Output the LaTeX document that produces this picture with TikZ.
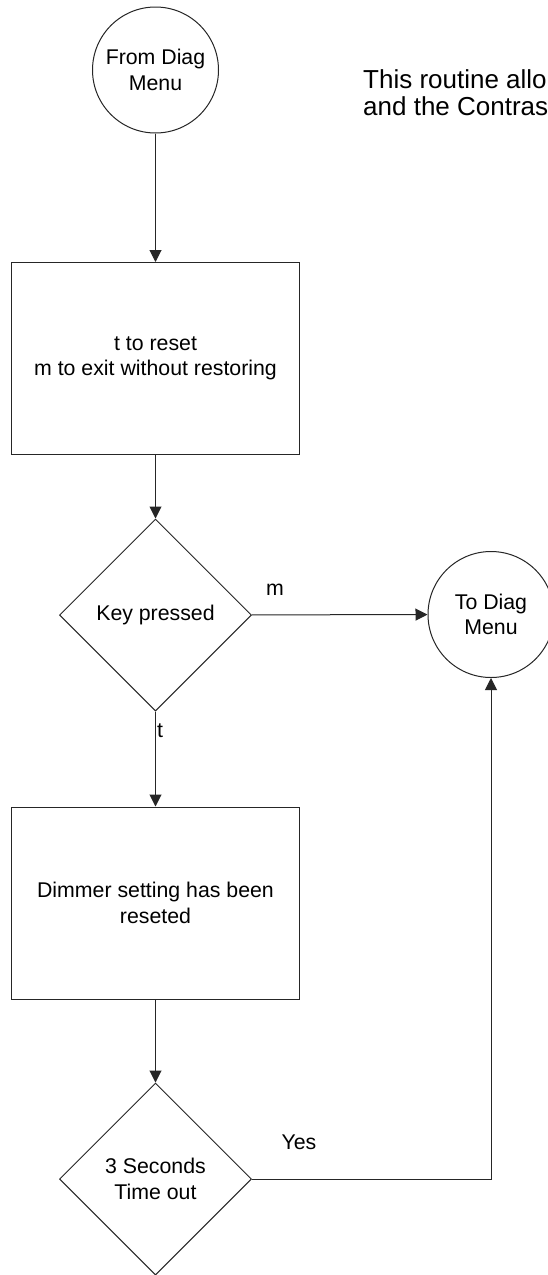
\documentclass[tikz,border=0pt]{standalone}
\usepackage{fontspec}
\setmainfont{Liberation Sans}
\usetikzlibrary{shapes.geometric,arrows.meta}

\tikzset{
  base/.style={draw=black!85, line width=1pt, inner sep=0pt, align=center,
               font=\fontsize{21.3}{25.7}\selectfont},
  term/.style={base, circle, minimum size=126pt},
  procbox/.style={base, rectangle, minimum width=288pt},
  decision/.style={base, diamond, aspect=1, minimum width=192pt, minimum height=192pt},
  flow/.style={draw=black!85, line width=1pt, -{Triangle[length=12pt,width=12pt]}},
  lbl/.style={inner sep=0pt, font=\fontsize{21.3}{25.7}\selectfont},
  note/.style={inner sep=0pt, anchor=base west, font=\fontsize{26}{30}\selectfont}
}

\begin{document}
\begin{tikzpicture}[x=1pt,y=-1pt]
  \clip (0,0) rectangle (548,1275);
  \fill[white] (0,0) rectangle (548,1275);

  % flow chart boxes
  \node[term] (from) at (155.5,70) {From Diag\\Menu};
  \node[procbox, minimum height=191.5pt] (reset) at (155.5,358.25)
       {t to reset\\m to exit without restoring};
  \node[decision] (key) at (155.5,615) {Key pressed};
  \node[term] (to) at (491,614.5) {To Diag\\Menu};
  \node[procbox, minimum height=192pt] (done) at (155.5,903)
       {Dimmer setting has been\\reseted};
  \node[decision] (wait) at (155.5,1179) {3 Seconds\\Time out};

  % description text
  \node[note] (note1) at (363,88) {This routine allo};
  \node[note] (note2) at (363,115) {and the Contras};

  % connectors
  \draw[flow] (from) -- (reset);
  \draw[flow] (reset) -- (key);
  \draw[flow] (key) -- (to);
  \draw[flow] (key) -- (done);
  \draw[flow] (done) -- (wait);
  \draw[flow] (wait.east) -| (to.south);

  % branch labels
  \node[lbl] (lm) at (275,590) {m};
  \node[lbl, anchor=west] (lt) at (157,731) {t};
  \node[lbl] (lyes) at (299,1142.7) {Yes};
\end{tikzpicture}
\end{document}
